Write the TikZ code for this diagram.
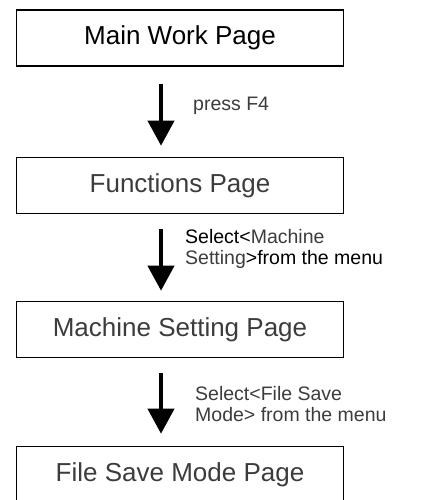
\documentclass[tikz,border=0pt]{standalone}
\usepackage{fontspec}
\setmainfont{Liberation Sans}
\usepackage{tikz}
\usetikzlibrary{arrows.meta,positioning}
\definecolor{txtgray}{HTML}{3C3C3C}

\begin{document}
\begin{tikzpicture}[
    x=1pt, y=-1pt,
    >={Triangle[length=25pt, width=26pt]},
    page/.style={draw, line width=1.6pt, minimum width=327pt, minimum height=56pt,
                 inner sep=0pt, font=\fontsize{26}{30}\selectfont},
    lbl/.style={anchor=west, align=left, inner sep=0pt, text=txtgray,
                font=\fontsize{19.5}{20.5}\selectfont},
    flow/.style={line width=4pt},
  ]
  \useasboundingbox (0,0) rectangle (425,500);

  % ---------------- pages
  \node[page] (main) at (180,38) {Main Work Page};
  \node[page, text=txtgray] (func) at (180,185.5) {Functions Page};
  \node[page, text=txtgray] (mach) at (180,329.5) {Machine Setting Page};
  \node[page, text=txtgray] (save) at (180,474.5) {File Save Mode Page};

  % ---------------- steps
  \draw[->,flow] ([xshift=-19pt,yshift=-17pt]main.south) -- ([xshift=-19pt,yshift=11pt]func.north);
  \node[lbl] (f4) at (193,106) {press F4};

  \draw[->,flow] ([xshift=-19pt,yshift=-15pt]func.south) -- ([xshift=-19pt,yshift=10pt]mach.north);
  \node[lbl] (selmach) at (185,249)
       {\textcolor{black}{Select<}Machine\\Setting\textcolor{black}{>from the menu}};

  \draw[->,flow] ([xshift=-19pt,yshift=-15pt]mach.south) -- ([xshift=-19pt,yshift=12pt]save.north);
  \node[lbl] (selsave) at (195,404)
       {Select<File Save\\Mode> from the menu};
\end{tikzpicture}
\end{document}
